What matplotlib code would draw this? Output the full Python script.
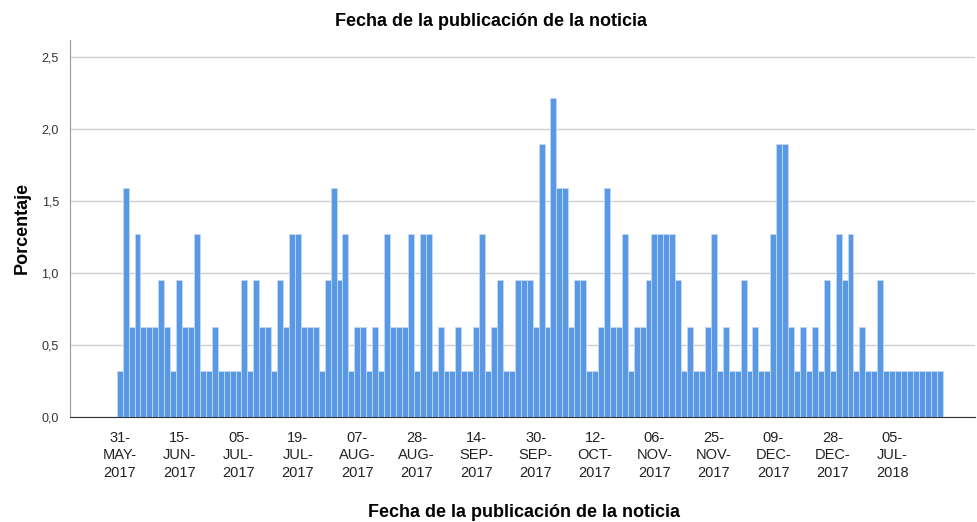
import matplotlib.pyplot as plt
import numpy as np

# porcentaje por fecha (lectura del grafico)
porcentajes = [
    0.32, 1.59, 0.63, 1.27, 0.63, 0.63, 0.63, 0.95, 0.63, 0.32,
    0.95, 0.63, 0.63, 1.27, 0.32, 0.32, 0.63, 0.32, 0.32, 0.32,
    0.32, 0.95, 0.32, 0.95, 0.63, 0.63, 0.32, 0.95, 0.63, 1.27,
    1.27, 0.63, 0.63, 0.63, 0.32, 0.95, 1.59, 0.95, 1.27, 0.32,
    0.63, 0.63, 0.32, 0.63, 0.32, 1.27, 0.63, 0.63, 0.63, 1.27,
    0.32, 1.27, 1.27, 0.32, 0.63, 0.32, 0.32, 0.63, 0.32, 0.32,
    0.63, 1.27, 0.32, 0.63, 0.95, 0.32, 0.32, 0.95, 0.95, 0.95,
    0.63, 1.90, 0.63, 2.22, 1.59, 1.59, 0.63, 0.95, 0.95, 0.32,
    0.32, 0.63, 1.59, 0.63, 0.63, 1.27, 0.32, 0.63, 0.63, 0.95,
    1.27, 1.27, 1.27, 1.27, 0.95, 0.32, 0.63, 0.32, 0.32, 0.63,
    1.27, 0.32, 0.63, 0.32, 0.32, 0.95, 0.32, 0.63, 0.32, 0.32,
    1.27, 1.90, 1.90, 0.63, 0.32, 0.63, 0.32, 0.63, 0.32, 0.95,
    0.32, 1.27, 0.95, 1.27, 0.32, 0.63, 0.32, 0.32, 0.95, 0.32,
    0.32, 0.32, 0.32, 0.32, 0.32, 0.32, 0.32, 0.32, 0.32,
]

# etiquetas visibles del eje x (una cada 10 fechas)
etiquetas_x = [
    "31-\nMAY-\n2017", "15-\nJUN-\n2017", "05-\nJUL-\n2017", "19-\nJUL-\n2017",
    "07-\nAUG-\n2017", "28-\nAUG-\n2017", "14-\nSEP-\n2017", "30-\nSEP-\n2017",
    "12-\nOCT-\n2017", "06-\nNOV-\n2017", "25-\nNOV-\n2017", "09-\nDEC-\n2017",
    "28-\nDEC-\n2017", "05-\nJUL-\n2018",
]
paso_etiquetas = 10

marcas_y = [0.0, 0.5, 1.0, 1.5, 2.0, 2.5]
etiquetas_y = ["0,0", "0,5", "1,0", "1,5", "2,0", "2,5"]

titulo = "Fecha de la publicación de la noticia"

plt.rcParams["font.family"] = ["Liberation Sans", "DejaVu Sans"]

fig = plt.figure(figsize=(9.77, 5.22), dpi=100)
ax = fig.add_axes([70 / 977, 1 - 417.3 / 522, 905 / 977, 377.3 / 522])

x = np.arange(len(porcentajes))
ax.bar(x, porcentajes, width=1.0, color="#5898e4", edgecolor="#c3d9f4",
       linewidth=0.6, zorder=3)

ax.set_xlim(-8.36, 143.95)
ax.set_ylim(0, 2.62)

ax.set_yticks(marcas_y)
ax.set_yticklabels(etiquetas_y)
ax.set_xticks(x[::paso_etiquetas][:len(etiquetas_x)])
ax.set_xticklabels(etiquetas_x, linespacing=1.3)

ax.tick_params(axis="x", length=0, pad=10, labelsize=10.5, colors="#222222")
ax.tick_params(axis="y", length=0, pad=8, labelsize=9, colors="#333333")

ax.yaxis.grid(True, color="#cfcfcf", linewidth=1.0, zorder=0)
ax.set_axisbelow(True)

for side in ["top", "right"]:
    ax.spines[side].set_visible(False)
ax.spines["left"].set_color("#9a9a9a")
ax.spines["bottom"].set_color("#333333")

fig.text(0.503, 1 - 21 / 522, titulo, ha="center", va="center",
         fontsize=13, weight="bold")
fig.text(524 / 977, 5 / 522, titulo, ha="center", va="baseline",
         fontsize=13, weight="bold")
fig.text(22 / 977, 1 - 227.5 / 522, "Porcentaje", ha="center", va="center",
         rotation=90, fontsize=13, weight="bold")

fig.savefig("out.png", dpi=100)
